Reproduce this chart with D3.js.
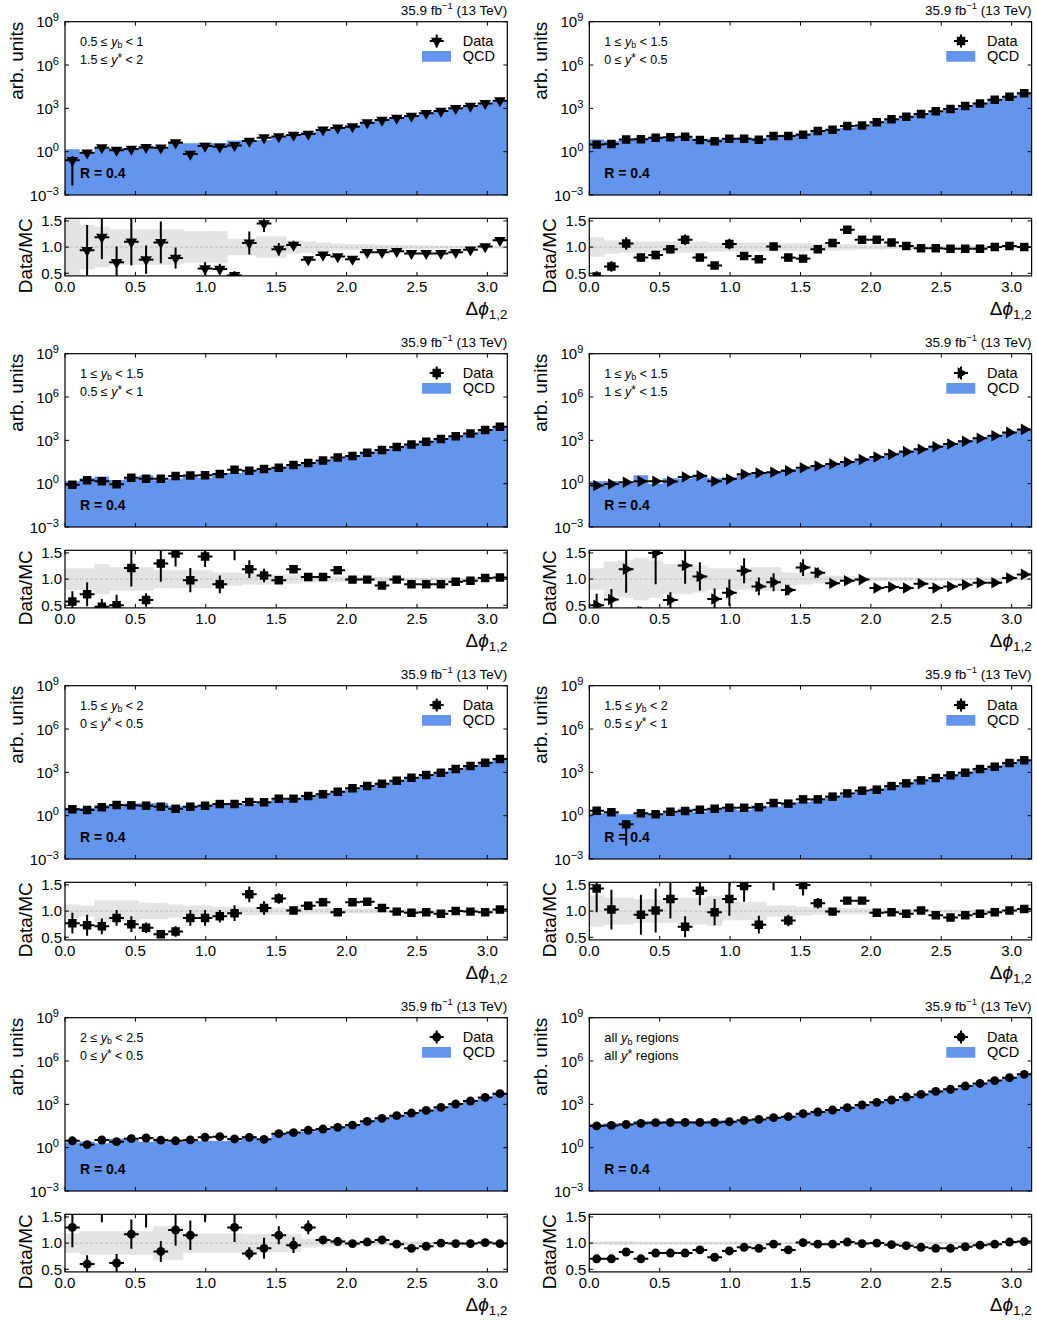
<!DOCTYPE html>
<html><head><meta charset="utf-8">
<script src="https://cdn.jsdelivr.net/npm/d3@7"></script>
<style>
body{margin:0;background:#fff}
svg{display:block}
text{font-family:"Liberation Sans",Arial,Helvetica,sans-serif;fill:#000}
</style>
</head><body>
<svg id="c" width="1037" height="1320"></svg>
<script>
// ---------------- data ----------------
const binCount = 30;               // Δφ bins between 0 and π
const xTickValues = [0.0, 0.5, 1.0, 1.5, 2.0, 2.5, 3.0];
const xTickLabels = ["0.0", "0.5", "1.0", "1.5", "2.0", "2.5", "3.0"];
const yMainExponents = [-3, 0, 3, 6, 9];
const yRatioTicks = [0.5, 1.0, 1.5];
const yRatioLabels = ["0.5", "1.0", "1.5"];
const legendLabels = ["Data", "QCD"];
const jetRadiusLabel = "R = 0.4";
const markerShapes = ["triangleDown", "square", "square", "triangleRight", "square", "square", "circle", "circle"];

const regionLabels = [
  [[["0.5 ≤ ",""],["y","i"],["b","sub"],[" < 1",""]], [["1.5 ≤ ",""],["y","i"],["*","star"],[" < 2",""]]],
  [[["1 ≤ ",""],["y","i"],["b","sub"],[" < 1.5",""]], [["0 ≤ ",""],["y","i"],["*","star"],[" < 0.5",""]]],
  [[["1 ≤ ",""],["y","i"],["b","sub"],[" < 1.5",""]], [["0.5 ≤ ",""],["y","i"],["*","star"],[" < 1",""]]],
  [[["1 ≤ ",""],["y","i"],["b","sub"],[" < 1.5",""]], [["1 ≤ ",""],["y","i"],["*","star"],[" < 1.5",""]]],
  [[["1.5 ≤ ",""],["y","i"],["b","sub"],[" < 2",""]], [["0 ≤ ",""],["y","i"],["*","star"],[" < 0.5",""]]],
  [[["1.5 ≤ ",""],["y","i"],["b","sub"],[" < 2",""]], [["0.5 ≤ ",""],["y","i"],["*","star"],[" < 1",""]]],
  [[["2 ≤ ",""],["y","i"],["b","sub"],[" < 2.5",""]], [["0 ≤ ",""],["y","i"],["*","star"],[" < 0.5",""]]],
  [[["all ",""],["y","i"],["b","sub"],[" regions",""]], [["all ",""],["y","i"],["*","star"],[" regions",""]]]
];

// QCD prediction per bin (main panel), Data/MC ratio, ratio error, MC uncertainty band (relative)
const mc1 = [1.5, 0.9, 1.6, 1.8, 1.4, 2.6, 1.7, 5.3, 3.8, 4.2, 3.8, 5.9, 5.1, 6.4, 11.5, 13.5, 22, 38, 54, 70, 113, 173, 233, 335, 511, 739, 1111, 1526, 2178, 3009];
const ratio1 = [0.17, 0.94, 1.19, 0.71, 1.10, 0.76, 1.09, 0.79, 0.18, 0.59, 0.58, 0.46, 1.08, 1.45, 0.96, 1.04, 0.76, 0.85, 0.82, 0.77, 0.90, 0.90, 0.92, 0.88, 0.88, 0.88, 0.90, 0.95, 1.01, 1.13];
const err1 = [0.167, 0.48, 0.42, 0.30, 0.45, 0.27, 0.40, 0.20, 0.04, 0.12, 0.10, 0.08, 0.22, 0.16, 0.12, 0.08, 0.05, 0.04, 0.03, 0.03, 0.03, 0.02, 0.02, 0.02, 0.02, 0.02, 0.02, 0.02, 0.02, 0.02];
const band1 = [0.6, 0.42, 0.38, 0.33, 0.33, 0.33, 0.33, 0.33, 0.3, 0.3, 0.3, 0.15, 0.15, 0.2, 0.2, 0.12, 0.1, 0.08, 0.06, 0.05, 0.05, 0.04, 0.03, 0.03, 0.03, 0.02, 0.02, 0.02, 0.02, 0.02];

const mc2 = [7.0, 5.4, 6.6, 8.9, 10.9, 10.2, 9.6, 8.0, 8.0, 7.5, 9.5, 8.8, 11.9, 15, 19, 28, 30, 45, 58, 94, 160, 259, 413, 633, 918, 1495, 2268, 4000, 6275, 11000];
const ratio2 = [0.44, 0.63, 1.07, 0.80, 0.85, 0.96, 1.14, 0.80, 0.65, 1.06, 0.83, 0.77, 1.01, 0.80, 0.78, 0.96, 1.08, 1.33, 1.14, 1.14, 1.09, 1.02, 0.98, 0.98, 0.97, 0.97, 0.97, 1.0, 1.02, 1.0];
const err2 = [0.1, 0.1, 0.12, 0.08, 0.08, 0.08, 0.1, 0.07, 0.06, 0.1, 0.07, 0.07, 0.07, 0.03, 0.03, 0.03, 0.03, 0.03, 0.03, 0.02, 0.02, 0.02, 0.02, 0.02, 0.02, 0.02, 0.02, 0.02, 0.02, 0.02];
const band2 = [0.18, 0.12, 0.1, 0.1, 0.1, 0.1, 0.1, 0.1, 0.08, 0.08, 0.08, 0.08, 0.07, 0.07, 0.07, 0.06, 0.06, 0.05, 0.04, 0.04, 0.03, 0.03, 0.02, 0.02, 0.02, 0.02, 0.02, 0.02, 0.02, 0.02];

const mc3 = [1.5, 2.4, 3.1, 1.8, 2.1, 3.7, 1.7, 2.3, 3.7, 2.7, 5.2, 5.5, 6.6, 9.7, 13, 16.5, 26, 39, 56, 84, 141, 243, 350, 583, 900, 1367, 2000, 3093, 5098, 8640];
const ratio3 = [0.57, 0.71, 0.47, 0.50, 1.21, 0.60, 1.30, 1.49, 0.98, 1.43, 0.90, 1.70, 1.19, 1.07, 0.98, 1.19, 1.04, 1.04, 1.17, 0.99, 0.99, 0.88, 0.99, 0.90, 0.90, 0.90, 0.95, 0.97, 1.02, 1.03];
const err3 = [0.2, 0.23, 0.15, 0.2, 0.35, 0.13, 0.35, 0.25, 0.23, 0.2, 0.17, 0.34, 0.17, 0.13, 0.07, 0.06, 0.04, 0.04, 0.04, 0.03, 0.03, 0.02, 0.02, 0.02, 0.02, 0.02, 0.02, 0.02, 0.02, 0.02];
const band3 = [0.2, 0.2, 0.28, 0.22, 0.22, 0.22, 0.17, 0.17, 0.17, 0.17, 0.12, 0.12, 0.1, 0.1, 0.08, 0.08, 0.06, 0.05, 0.05, 0.04, 0.03, 0.03, 0.03, 0.02, 0.02, 0.02, 0.02, 0.02, 0.02, 0.02];

const mc4 = [1.5, 1.56, 1.04, 3.8, 0.97, 2.4, 2.3, 3.4, 2.4, 2.8, 3.8, 6.4, 6.5, 10, 10.5, 15, 25, 33, 48, 84, 126, 199, 264, 440, 651, 955, 1484, 2258, 3480, 5275];
const ratio4 = [0.50, 0.61, 1.19, 0.38, 1.50, 0.60, 1.26, 1.05, 0.62, 0.74, 1.16, 0.86, 0.94, 0.79, 1.22, 1.12, 0.92, 0.97, 0.99, 0.83, 0.85, 0.83, 0.91, 0.83, 0.86, 0.89, 0.93, 0.93, 1.02, 1.09];
const err4 = [0.22, 0.2, 0.45, 0.09, 0.6, 0.15, 0.35, 0.27, 0.2, 0.25, 0.24, 0.17, 0.17, 0.1, 0.16, 0.1, 0.05, 0.04, 0.03, 0.03, 0.02, 0.02, 0.02, 0.02, 0.02, 0.02, 0.02, 0.02, 0.02, 0.02];
const band4 = [0.2, 0.33, 0.35, 0.4, 0.35, 0.28, 0.28, 0.25, 0.2, 0.2, 0.2, 0.22, 0.22, 0.12, 0.1, 0.08, 0.06, 0.05, 0.04, 0.03, 0.03, 0.03, 0.02, 0.02, 0.02, 0.02, 0.02, 0.02, 0.02, 0.02];

const mc5 = [3.6, 3.4, 5.4, 6.3, 6.9, 7.2, 7.5, 4.9, 4.8, 5.6, 7.1, 6.7, 6.7, 7.9, 12, 15, 21, 26, 47, 67, 95, 156, 266, 440, 663, 989, 1700, 2778, 4796, 8058];
const ratio5 = [0.77, 0.73, 0.71, 0.87, 0.75, 0.68, 0.56, 0.61, 0.87, 0.87, 0.90, 0.96, 1.32, 1.06, 1.24, 1.01, 1.10, 1.17, 0.98, 1.17, 1.18, 1.06, 0.99, 0.97, 0.98, 0.95, 1.0, 0.99, 0.98, 1.03];
const err5 = [0.2, 0.2, 0.15, 0.15, 0.15, 0.1, 0.07, 0.1, 0.15, 0.15, 0.12, 0.15, 0.15, 0.13, 0.1, 0.05, 0.04, 0.03, 0.03, 0.03, 0.03, 0.02, 0.02, 0.02, 0.02, 0.02, 0.02, 0.02, 0.02, 0.02];
const band5 = [0.12, 0.1, 0.2, 0.2, 0.2, 0.15, 0.15, 0.12, 0.1, 0.1, 0.08, 0.08, 0.07, 0.07, 0.06, 0.05, 0.05, 0.05, 0.04, 0.04, 0.04, 0.03, 0.02, 0.02, 0.02, 0.02, 0.02, 0.02, 0.02, 0.02];

const mc6 = [1.54, 1.65, 1.25, 1.56, 1.23, 1.54, 3.0, 1.87, 3.1, 2.9, 2.4, 5.1, 4.4, 8.3, 9, 11.7, 21, 29, 45, 65, 114, 183, 277, 440, 705, 1033, 1789, 2500, 4406, 6538];
const ratio6 = [1.43, 1.03, 0.2, 0.93, 1.01, 1.23, 0.70, 1.39, 0.98, 1.23, 1.48, 0.74, 1.7, 0.82, 1.50, 1.15, 0.99, 1.20, 1.20, 0.97, 0.98, 0.95, 1.01, 0.92, 0.88, 0.92, 0.95, 0.98, 1.01, 1.04];
const err6 = [0.45, 0.38, 0.193, 0.38, 0.42, 0.37, 0.2, 0.28, 0.25, 0.32, 0.3, 0.17, 0.3, 0.11, 0.2, 0.1, 0.05, 0.04, 0.04, 0.03, 0.03, 0.02, 0.02, 0.02, 0.02, 0.02, 0.02, 0.02, 0.02, 0.02];
const band6 = [0.3, 0.25, 0.25, 0.22, 0.22, 0.22, 0.25, 0.25, 0.28, 0.17, 0.17, 0.17, 0.1, 0.1, 0.08, 0.06, 0.06, 0.05, 0.05, 0.04, 0.03, 0.03, 0.03, 0.02, 0.02, 0.02, 0.02, 0.02, 0.02, 0.02];

const mc7 = [2.3, 2.7, 2.0, 4.2, 3.6, 2.6, 4.0, 2.4, 3.0, 3.0, 2.9, 3.1, 6.5, 4.2, 8.1, 11.5, 12.3, 18.4, 24.8, 37, 65, 101, 168, 278, 404, 620, 1060, 1717, 2970, 5556];
const ratio7 = [1.30, 0.60, 1.7, 0.62, 1.17, 1.8, 0.84, 1.25, 1.15, 1.75, 2.0, 1.30, 0.80, 0.90, 1.15, 0.96, 1.30, 1.06, 1.03, 0.99, 1.02, 1.06, 0.98, 0.90, 0.94, 1.0, 0.99, 0.99, 1.01, 0.99];
const err7 = [0.38, 0.17, 0.3, 0.17, 0.28, 0.5, 0.2, 0.3, 0.28, 0.35, 0.35, 0.28, 0.12, 0.2, 0.17, 0.15, 0.13, 0.05, 0.04, 0.04, 0.03, 0.03, 0.02, 0.02, 0.02, 0.02, 0.02, 0.02, 0.02, 0.02];
const band7 = [0.18, 0.22, 0.22, 0.22, 0.22, 0.22, 0.32, 0.32, 0.18, 0.18, 0.18, 0.18, 0.17, 0.17, 0.17, 0.17, 0.08, 0.06, 0.06, 0.05, 0.04, 0.04, 0.03, 0.03, 0.02, 0.02, 0.02, 0.02, 0.02, 0.02];

const mc8 = [46, 50, 49, 69, 67, 69, 69, 64, 77, 74, 85, 101, 122, 161, 223, 301, 413, 578, 909, 1380, 2062, 3368, 5326, 8778, 12222, 20000, 29167, 44898, 68627, 116505];
const ratio8 = [0.70, 0.70, 0.83, 0.70, 0.81, 0.81, 0.81, 0.87, 0.73, 0.85, 0.92, 0.90, 0.98, 0.87, 1.01, 0.98, 0.98, 1.02, 0.99, 1.0, 0.97, 0.95, 0.92, 0.90, 0.90, 0.93, 0.96, 0.98, 1.02, 1.03];
const err8 = [0.01, 0.01, 0.01, 0.01, 0.01, 0.01, 0.01, 0.01, 0.01, 0.01, 0.01, 0.01, 0.01, 0.01, 0.01, 0.01, 0.01, 0.01, 0.01, 0.01, 0.01, 0.01, 0.01, 0.01, 0.01, 0.01, 0.01, 0.01, 0.01, 0.01];
const band8 = [0.02, 0.03, 0.03, 0.02, 0.02, 0.02, 0.02, 0.02, 0.02, 0.02, 0.015, 0.015, 0.015, 0.015, 0.015, 0.015, 0.015, 0.015, 0.015, 0.015, 0.015, 0.015, 0.015, 0.015, 0.015, 0.015, 0.015, 0.015, 0.015, 0.015];

// ---------------- layout ----------------
const panels = [
  {mc: mc1, ratio: ratio1, err: err1, band: band1},
  {mc: mc2, ratio: ratio2, err: err2, band: band2},
  {mc: mc3, ratio: ratio3, err: err3, band: band3},
  {mc: mc4, ratio: ratio4, err: err4, band: band4},
  {mc: mc5, ratio: ratio5, err: err5, band: band5},
  {mc: mc6, ratio: ratio6, err: err6, band: band6},
  {mc: mc7, ratio: ratio7, err: err7, band: band7},
  {mc: mc8, ratio: ratio8, err: err8, band: band8}
];

const colX = [65, 589.3];
const plotW = 442.3;
const rowTop0 = 21.7, rowStep = 332;
const mainH = 173.3, ratioOff = 196.6, ratioH = 57.6;
const BLUE = "#6495ed";
const BAND = "#e4e4e4";
const TICK = 4;

const svg = d3.select("#c");
const defs = svg.append("defs");

function rich(parent, x, y, parts, size, anchor, supScale) {
  const ss = supScale || 0.7;
  const t = parent.append("text").attr("x", x).attr("y", y)
    .attr("font-size", size).attr("text-anchor", anchor || "start");
  let shift = 0;
  parts.forEach(([s, kind]) => {
    const ts = t.append("tspan").text(s);
    let target = 0, fs = size;
    if (kind === "sup") { target = -0.40 * size; fs = size * ss; }
    else if (kind === "sub") { target = 0.22 * size; fs = size * 0.7; }
    else if (kind === "star") { target = -0.12 * size; fs = size * 0.95; }
    if (target - shift !== 0) ts.attr("dy", (target - shift).toFixed(2));
    ts.attr("font-size", fs.toFixed(2));
    if (kind === "i") ts.attr("font-style", "italic");
    shift = target;
  });
  return t;
}

function markerPath(shape) {
  if (shape === "circle") return d3.symbol(d3.symbolCircle, 62)();
  if (shape === "square") return d3.symbol(d3.symbolSquare, 72)();
  return d3.symbol(d3.symbolTriangle, 58)();
}
function markerRot(shape) {
  if (shape === "triangleDown") return 180;
  if (shape === "triangleRight") return 90;
  return 0;
}

panels.forEach((p, idx) => {
  const col = idx % 2, row = Math.floor(idx / 2);
  const x0 = colX[col], x1 = x0 + plotW;
  const top = rowTop0 + row * rowStep;
  const bot = top + mainH;
  const rTop = top + ratioOff, rBot = rTop + ratioH;
  const shape = markerShapes[idx];

  const x = d3.scaleLinear().domain([0, Math.PI]).range([x0, x1]);
  const y = d3.scaleLog().domain([1e-3, 1e9]).range([bot, top]);
  const yr = d3.scaleLinear().domain([0.45, 1.55]).range([rBot, rTop]);
  const edges = d3.range(binCount + 1).map(i => i * Math.PI / binCount);

  const g = svg.append("g");

  defs.append("clipPath").attr("id", "cm" + idx).append("rect")
    .attr("x", x0).attr("y", top).attr("width", plotW).attr("height", mainH);
  defs.append("clipPath").attr("id", "cr" + idx).append("rect")
    .attr("x", x0).attr("y", rTop).attr("width", plotW).attr("height", ratioH);

  // ---- main panel ----
  const gm = g.append("g").attr("clip-path", `url(#cm${idx})`);
  let dPath = `M${x(edges[0])},${bot}`;
  p.mc.forEach((v, i) => { dPath += `L${x(edges[i])},${y(v)}L${x(edges[i + 1])},${y(v)}`; });
  dPath += `L${x(edges[binCount])},${bot}Z`;
  gm.append("path").attr("d", dPath).attr("fill", BLUE);

  g.append("text").attr("x", x0 + 15).attr("y", top + 156.3)
    .attr("font-size", 14).attr("font-weight", "bold").text(jetRadiusLabel);

  const dataVals = p.mc.map((v, i) => v * p.ratio[i]);
  dataVals.forEach((d, i) => {
    const rel = p.err[i] / p.ratio[i];
    const lo = Math.max(d * (1 - rel), 1e-5), hi = d * (1 + rel);
    const cx = x((edges[i] + edges[i + 1]) / 2), cy = y(d);
    gm.append("line").attr("x1", x(edges[i])).attr("x2", x(edges[i + 1]))
      .attr("y1", cy).attr("y2", cy).attr("stroke", "#000").attr("stroke-width", 2);
    gm.append("line").attr("x1", cx).attr("x2", cx).attr("y1", y(lo)).attr("y2", y(hi))
      .attr("stroke", "#000").attr("stroke-width", 2);
    gm.append("path").attr("d", markerPath(shape))
      .attr("transform", `translate(${cx},${cy}) rotate(${markerRot(shape)})`).attr("fill", "#000");
  });

  g.append("rect").attr("x", x0).attr("y", top).attr("width", plotW).attr("height", mainH)
    .attr("fill", "none").attr("stroke", "#000").attr("stroke-width", 1.2);
  xTickValues.forEach(t => {
    const xx = x(t);
    g.append("line").attr("x1", xx).attr("x2", xx).attr("y1", bot).attr("y2", bot - TICK).attr("stroke", "#000");
    g.append("line").attr("x1", xx).attr("x2", xx).attr("y1", top).attr("y2", top + TICK).attr("stroke", "#000");
  });
  yMainExponents.forEach(e => {
    const yy = y(Math.pow(10, e));
    g.append("line").attr("x1", x0).attr("x2", x0 + TICK).attr("y1", yy).attr("y2", yy).attr("stroke", "#000");
    g.append("line").attr("x1", x1).attr("x2", x1 - TICK).attr("y1", yy).attr("y2", yy).attr("stroke", "#000");
    const lab = e < 0 ? "\u2212" + Math.abs(e) : String(e);
    rich(g, x0 - 6, yy + 5.5, [["10", ""], [lab, "sup"]], 15, "end", 0.74);
  });

  rich(g, x1, top - 7, [["35.9 fb", ""], ["\u22121", "sup"], [" (13 TeV)", ""]], 13.5, "end");

  const rl = regionLabels[idx];
  const rfs = idx === 7 ? 13 : 12.5;
  rich(g, x0 + 15, top + 24, rl[0], rfs, "start").attr("fill", "#222");
  rich(g, x0 + 15, top + 42, rl[1], rfs, "start").attr("fill", "#222");

  const lmx = x1 - 70.6, lmy = top + 19.3;
  g.append("line").attr("x1", lmx - 7).attr("x2", lmx + 7).attr("y1", lmy).attr("y2", lmy).attr("stroke", "#000").attr("stroke-width", 2);
  g.append("line").attr("x1", lmx).attr("x2", lmx).attr("y1", lmy - 6.5).attr("y2", lmy + 6.5).attr("stroke", "#000").attr("stroke-width", 2);
  g.append("path").attr("d", markerPath(shape))
    .attr("transform", `translate(${lmx},${lmy}) rotate(${markerRot(shape)})`).attr("fill", "#000");
  g.append("text").attr("x", x1 - 44.6).attr("y", top + 24.4).attr("font-size", 14.5).text(legendLabels[0]);
  g.append("rect").attr("x", x1 - 85.3).attr("y", top + 29.3).attr("width", 29).attr("height", 10.7).attr("fill", BLUE);
  g.append("text").attr("x", x1 - 44.6).attr("y", top + 39.4).attr("font-size", 14.5).text(legendLabels[1]);

  g.append("text").attr("transform", `translate(${x0 - 42},${top}) rotate(-90)`)
    .attr("text-anchor", "end").attr("font-size", 19).text("arb. units");

  // ---- ratio panel ----
  const gr = g.append("g").attr("clip-path", `url(#cr${idx})`);
  let bPath = "";
  p.band.forEach((b, i) => {
    bPath += `M${x(edges[i])},${yr(1 + b)}H${x(edges[i + 1])}V${yr(1 - b)}H${x(edges[i])}Z`;
  });
  gr.append("path").attr("d", bPath).attr("fill", BAND).attr("stroke", BAND).attr("stroke-width", 0.6);
  gr.append("line").attr("x1", x0).attr("x2", x1).attr("y1", yr(1)).attr("y2", yr(1))
    .attr("stroke", "#c4c4c4").attr("stroke-width", 1.2).attr("stroke-dasharray", "3,2");

  p.ratio.forEach((r, i) => {
    const cx = x((edges[i] + edges[i + 1]) / 2), cy = yr(r);
    gr.append("line").attr("x1", x(edges[i])).attr("x2", x(edges[i + 1]))
      .attr("y1", cy).attr("y2", cy).attr("stroke", "#000").attr("stroke-width", 2);
    gr.append("line").attr("x1", cx).attr("x2", cx).attr("y1", yr(r - p.err[i])).attr("y2", yr(r + p.err[i]))
      .attr("stroke", "#000").attr("stroke-width", 2);
    gr.append("path").attr("d", markerPath(shape))
      .attr("transform", `translate(${cx},${cy}) rotate(${markerRot(shape)})`).attr("fill", "#000");
  });

  g.append("rect").attr("x", x0).attr("y", rTop).attr("width", plotW).attr("height", ratioH)
    .attr("fill", "none").attr("stroke", "#000").attr("stroke-width", 1.2);
  xTickValues.forEach((t, k) => {
    const xx = x(t);
    g.append("line").attr("x1", xx).attr("x2", xx).attr("y1", rBot).attr("y2", rBot - TICK).attr("stroke", "#000");
    g.append("line").attr("x1", xx).attr("x2", xx).attr("y1", rTop).attr("y2", rTop + TICK).attr("stroke", "#000");
    g.append("text").attr("x", xx).attr("y", rBot + 16).attr("text-anchor", "middle")
      .attr("font-size", 15).text(xTickLabels[k]);
  });
  yRatioTicks.forEach((t, k) => {
    const yy = yr(t);
    g.append("line").attr("x1", x0).attr("x2", x0 + TICK).attr("y1", yy).attr("y2", yy).attr("stroke", "#000");
    g.append("line").attr("x1", x1).attr("x2", x1 - TICK).attr("y1", yy).attr("y2", yy).attr("stroke", "#000");
    g.append("text").attr("x", x0 - 3).attr("y", yy + 5.3).attr("text-anchor", "end")
      .attr("font-size", 15).text(yRatioLabels[k]);
  });
  g.append("text").attr("transform", `translate(${x0 - 33},${rTop}) rotate(-90)`)
    .attr("text-anchor", "end").attr("font-size", 19).text("Data/MC");

  rich(g, x1, rBot + 39, [["\u0394", ""], ["\u03d5", "i"], ["1,2", "sub"]], 19, "end");
});
</script>
</body></html>
